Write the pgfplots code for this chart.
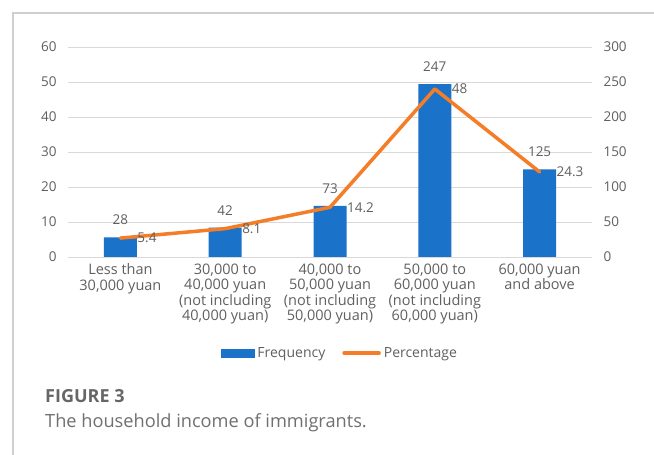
\documentclass[border=0pt]{standalone}
\usepackage{fontspec}
\setmainfont{Open Sans}
\newfontfamily\capfont{Open Sans}
\usepackage{pgfplots}
\pgfplotsset{compat=1.18}
\definecolor{barblue}{HTML}{1A73C8}
\definecolor{lineorange}{HTML}{F47D27}
\definecolor{txt}{HTML}{606060}
\definecolor{gridc}{HTML}{D9D9D9}
\definecolor{framec}{HTML}{CFCFCF}
\definecolor{figc}{HTML}{666666}
\definecolor{capc}{HTML}{707070}
\begin{document}
\begin{tikzpicture}[x=1bp,y=1bp]
\useasboundingbox (0,0) rectangle (654,455);
\fill[white] (0,0) rectangle (654,455);
\draw[framec, line width=1.2bp] (13,0) -- (13,442) -- (654,442);
\pgfplotsset{
  common/.style={
    at={(68bp,198bp)}, anchor=south west,
    width=524bp, height=210bp, scale only axis,
    xmin=-0.5, xmax=4.5,
    axis line style={draw=none},
    major tick length=0pt,
    tick label style={font=\fontsize{13.5bp}{15.5bp}\selectfont, text=txt},
    /pgf/number format/assume math mode=true,
  }
}
\begin{axis}[common,
  ymin=0, ymax=300, ytick={0,50,...,300},
  yticklabel pos=right,
  yticklabel style={xshift=8bp},
  ymajorgrids, grid style={gridc, line width=0.8bp},
  xtick={0,1,2,3,4},
  xticklabels={{Less than\\30,000 yuan},{30,000 to\\40,000 yuan\\(not including\\40,000 yuan)},{40,000 to\\50,000 yuan\\(not including\\50,000 yuan)},{50,000 to\\60,000 yuan\\(not including\\60,000 yuan)},{60,000 yuan\\and above}},
  xticklabel style={align=center, yshift=-3bp, font=\fontsize{14.5bp}{15.6bp}\selectfont},
  ybar, bar width=33bp,
  nodes near coords,
  nodes near coords style={font=\fontsize{13.5bp}{15.5bp}\selectfont, text=txt, anchor=south, yshift=9bp},
]
\addplot[fill=barblue, draw=none] coordinates {(0,28) (1,42) (2,73) (3,247) (4,125)};
\end{axis}
\begin{axis}[common,
  ymin=0, ymax=60, ytick={0,10,...,60},
  yticklabel pos=left,
  yticklabel style={xshift=-8bp},
  xtick=\empty,
  legend style={at={(0.52,-0.457)}, anchor=center, draw=none, fill=none,
    legend columns=2, font=\fontsize{14bp}{15.5bp}\selectfont, text=txt,
    nodes={inner xsep=3bp},
    /tikz/every even column/.append style={column sep=14bp}},
]
\addlegendimage{legend image code/.code={\fill[barblue] (0bp,-3.8bp) rectangle (33bp,3.8bp);}}
\addlegendentry{Frequency}
\addplot[lineorange, line width=3.5bp, line cap=round, line join=round, mark=none,
  nodes near coords,
  nodes near coords style={font=\fontsize{13.5bp}{15.5bp}\selectfont, text=txt, anchor=west, xshift=12bp},
  legend image code/.code={\draw[lineorange, line width=3.5bp] (0bp,0bp) -- (35bp,0bp);}]
  coordinates {(0,5.4) (1,8.1) (2,14.2) (3,48) (4,24.3)};
\addlegendentry{Percentage}
\end{axis}
\node[anchor=base west, text=figc, inner sep=0] at (45,52) {\capfont\bfseries\fontsize{18bp}{20bp}\selectfont FIGURE 3};
\node[anchor=base west, text=capc, inner sep=0] at (45,27) {\capfont\fontsize{18.2bp}{20bp}\selectfont The household income of immigrants.};
\end{tikzpicture}
\end{document}
